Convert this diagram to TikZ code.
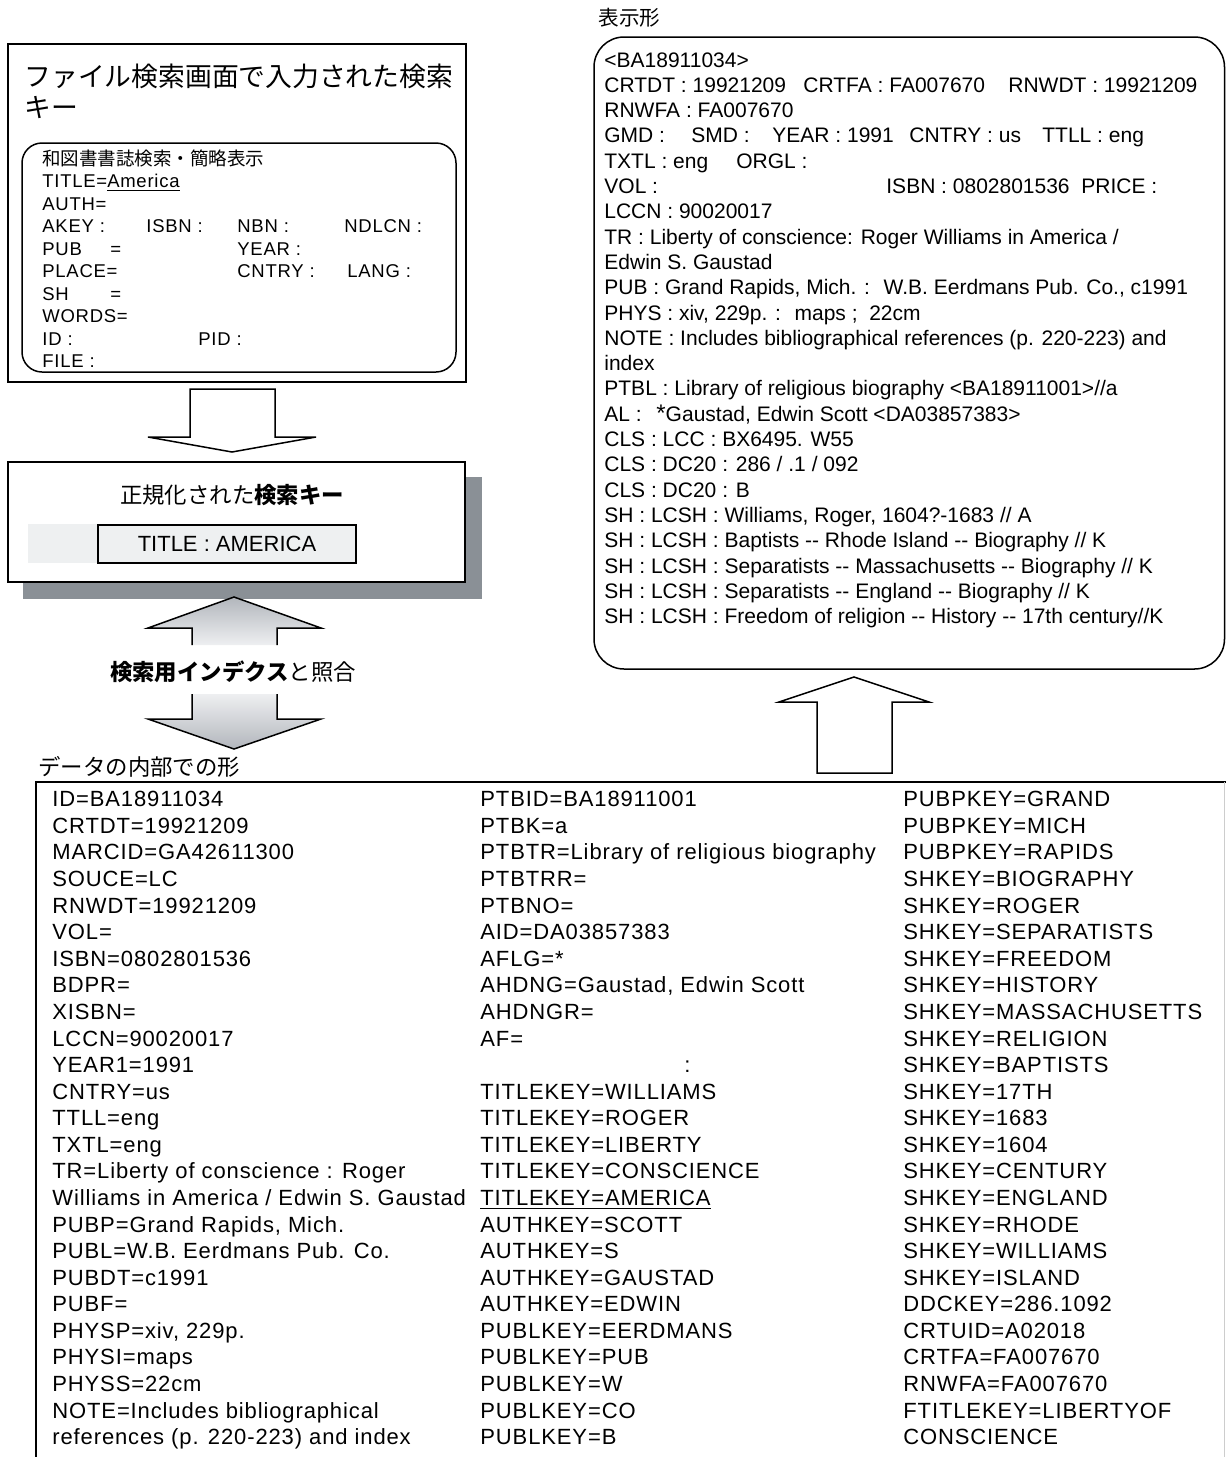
\documentclass[tikz,border=0pt]{standalone}
\usepackage{fontspec}
\setmainfont{Liberation Sans}
\newfontfamily\jp{Noto Sans CJK JP}
\newfontfamily\keyfont[LetterSpace=4]{Liberation Sans}
\usetikzlibrary{positioning,calc}
\definecolor{shadowgray}{RGB}{138,144,150}
\definecolor{panelgray}{RGB}{238,240,241}
\definecolor{arrowlight}{RGB}{238,239,241}
\definecolor{arrowdark}{RGB}{178,182,188}
\definecolor{edgegray}{RGB}{205,205,205}
\newcommand{\fld}[2]{\makebox[#1][l]{#2}}

\begin{document}
\begin{tikzpicture}[x=0.5pt,y=-0.5pt,
  frame/.style={draw=black, line width=0.75pt},
  hollow/.style={draw=black, line width=0.75pt, fill=white, line join=miter},
  list/.style={anchor=north west, inner sep=0pt, align=left},
  label/.style={inner sep=0pt, font=\jp\fontsize{11.2}{13}\selectfont}]
\useasboundingbox (0,0) rectangle (1226,1457);

% search screen
\draw[frame] (8,44) rectangle (466,382);
\node[list, font=\jp\fontsize{13.4}{15.5}\selectfont] (title) at (24,64) {ファイル検索画面で入力された検索\\キー};
\draw[frame, rounded corners=10pt] (22,143) rectangle (456,372);
\node[list, font=\keyfont\fontsize{9.25}{11.25}\selectfont] (form) at (42,149) {%
{\jp 和図書書誌検索・簡略表示}\\
TITLE=\underline{America}\\
AUTH=\\
\fld{52pt}{AKEY :}\fld{45.5pt}{ISBN :}\fld{53.5pt}{NBN :}NDLCN :\\
\fld{97.5pt}{\fld{34pt}{PUB}=}YEAR :\\
\fld{97.5pt}{PLACE=}\fld{55pt}{CNTRY :}LANG :\\
\fld{34pt}{SH}=\\
WORDS=\\
\fld{78pt}{ID :}PID :\\
FILE :};
\draw[hollow] (190,389) -- (275,389) -- (275,437) -- (316,437) -- (232,452) -- (148,437) -- (190,437) -- cycle;

% normalized key
\fill[shadowgray] (23,477) rectangle (482,599);
\draw[frame, fill=white] (8,462) rectangle (465,582);
\fill[panelgray] (28,524) rectangle (98,563);
\node[label] (normtitle) at (232,495) {正規化された\textbf{検索キー}};
\node[draw, line width=0.75pt, fill=panelgray, minimum width=129pt, minimum height=19pt, inner sep=0pt, font=\fontsize{11}{13}\selectfont] (key) at (227,544) {TITLE : AMERICA};

% matching
\shade[top color=arrowdark, bottom color=arrowlight] (234,597) -- (321,628) -- (277,628) -- (277,645) -- (192,645) -- (192,628) -- (148,628) -- cycle;
\draw[line width=0.75pt] (192,645) -- (192,628) -- (148,628) -- (234,597) -- (321,628) -- (277,628) -- (277,645);
\node[label] (match) at (233,672) {\textbf{検索用インデクス}と照合};
\shade[top color=arrowlight, bottom color=arrowdark] (192,694) -- (277,694) -- (277,719) -- (321,719) -- (234,749) -- (148,719) -- (192,719) -- cycle;
\draw[line width=0.75pt] (192,694) -- (192,719) -- (148,719) -- (234,749) -- (321,719) -- (277,719) -- (277,694);
\node[label, anchor=west] (internal) at (38,767) {データの内部での形};

% display form
\node[label, anchor=west, font=\jp\fontsize{10.3}{12}\selectfont] (disptitle) at (598,18) {表示形};
\draw[frame, rounded corners=15pt] (594,37) rectangle (1224.5,669);
\node[list, font=\fontsize{10.5}{12.65}\selectfont] (disp) at (604,52) {%
<BA18911034>\\
\fld{99.5pt}{CRTDT : 19921209}\fld{102.5pt}{CRTFA : FA007670}RNWDT : 19921209\\
RNWFA : FA007670\\
\fld{43.5pt}{GMD :}\fld{40.5pt}{SMD :}\fld{68.5pt}{YEAR : 1991}\fld{66.5pt}{CNTRY : us}TTLL : eng\\
\fld{66pt}{TXTL : eng}ORGL :\\
\fld{141pt}{VOL :}\fld{97.5pt}{ISBN : 0802801536}PRICE :\\
LCCN : 90020017\\
TR : Liberty of conscience: Roger Williams in America /\\
Edwin S. Gaustad\\
PUB : Grand Rapids, Mich. : \ W.B. Eerdmans Pub. Co., c1991\\
PHYS : xiv, 229p. : \ maps ; \ 22cm\\
NOTE : Includes bibliographical references (p. 220-223) and\\
index\\
PTBL : Library of religious biography <BA18911001>//a\\
\fld{26pt}{AL :}{\large *}Gaustad, Edwin Scott <DA03857383>\\
CLS : LCC : BX6495. W55\\
CLS : DC20 : 286 / .1 / 092\\
CLS : DC20 : B\\
SH : LCSH : Williams, Roger, 1604?-1683 // A\\
SH : LCSH : Baptists -{}- Rhode Island -{}- Biography // K\\
SH : LCSH : Separatists -{}- Massachusetts -{}- Biography // K\\
SH : LCSH : Separatists -{}- England -{}- Biography // K\\
SH : LCSH : Freedom of religion -{}- History -{}- 17th century//K};
\draw[hollow] (817,773) -- (817,702) -- (779,702) -- (854,677) -- (929,702) -- (892,702) -- (892,773) -- cycle;

% internal form
\draw[frame] (36,1457) -- (36,782) -- (1226,782);
\draw[edgegray, line width=0.5pt] (1224,782) -- (1224,1457);
\node[list, font=\keyfont\fontsize{11}{13.29}\selectfont] (col1) at (52,791) {%
ID=BA18911034\\
CRTDT=19921209\\
MARCID=GA42611300\\
SOUCE=LC\\
RNWDT=19921209\\
VOL=\\
ISBN=0802801536\\
BDPR=\\
XISBN=\\
LCCN=90020017\\
YEAR1=1991\\
CNTRY=us\\
TTLL=eng\\
TXTL=eng\\
TR=Liberty of conscience : Roger\\
Williams in America / Edwin S. Gaustad\\
PUBP=Grand Rapids, Mich.\\
PUBL=W.B. Eerdmans Pub. Co.\\
PUBDT=c1991\\
PUBF=\\
PHYSP=xiv, 229p.\\
PHYSI=maps\\
PHYSS=22cm\\
NOTE=Includes bibliographical\\
references (p. 220-223) and index};
\node[list, font=\keyfont\fontsize{11}{13.29}\selectfont] (col2) at (480,791) {%
PTBID=BA18911001\\
PTBK=a\\
PTBTR=Library of religious biography\\
PTBTRR=\\
PTBNO=\\
AID=DA03857383\\
AFLG=*\\
AHDNG=Gaustad, Edwin Scott\\
AHDNGR=\\
AF=\\
\hspace*{102pt}:\\
TITLEKEY=WILLIAMS\\
TITLEKEY=ROGER\\
TITLEKEY=LIBERTY\\
TITLEKEY=CONSCIENCE\\
\underline{TITLEKEY=AMERICA}\\
AUTHKEY=SCOTT\\
AUTHKEY=S\\
AUTHKEY=GAUSTAD\\
AUTHKEY=EDWIN\\
PUBLKEY=EERDMANS\\
PUBLKEY=PUB\\
PUBLKEY=W\\
PUBLKEY=CO\\
PUBLKEY=B};
\node[list, font=\keyfont\fontsize{11}{13.29}\selectfont] (col3) at (903,791) {%
PUBPKEY=GRAND\\
PUBPKEY=MICH\\
PUBPKEY=RAPIDS\\
SHKEY=BIOGRAPHY\\
SHKEY=ROGER\\
SHKEY=SEPARATISTS\\
SHKEY=FREEDOM\\
SHKEY=HISTORY\\
SHKEY=MASSACHUSETTS\\
SHKEY=RELIGION\\
SHKEY=BAPTISTS\\
SHKEY=17TH\\
SHKEY=1683\\
SHKEY=1604\\
SHKEY=CENTURY\\
SHKEY=ENGLAND\\
SHKEY=RHODE\\
SHKEY=WILLIAMS\\
SHKEY=ISLAND\\
DDCKEY=286.1092\\
CRTUID=A02018\\
CRTFA=FA007670\\
RNWFA=FA007670\\
FTITLEKEY=LIBERTYOF\\
CONSCIENCE};
\end{tikzpicture}
\end{document}
